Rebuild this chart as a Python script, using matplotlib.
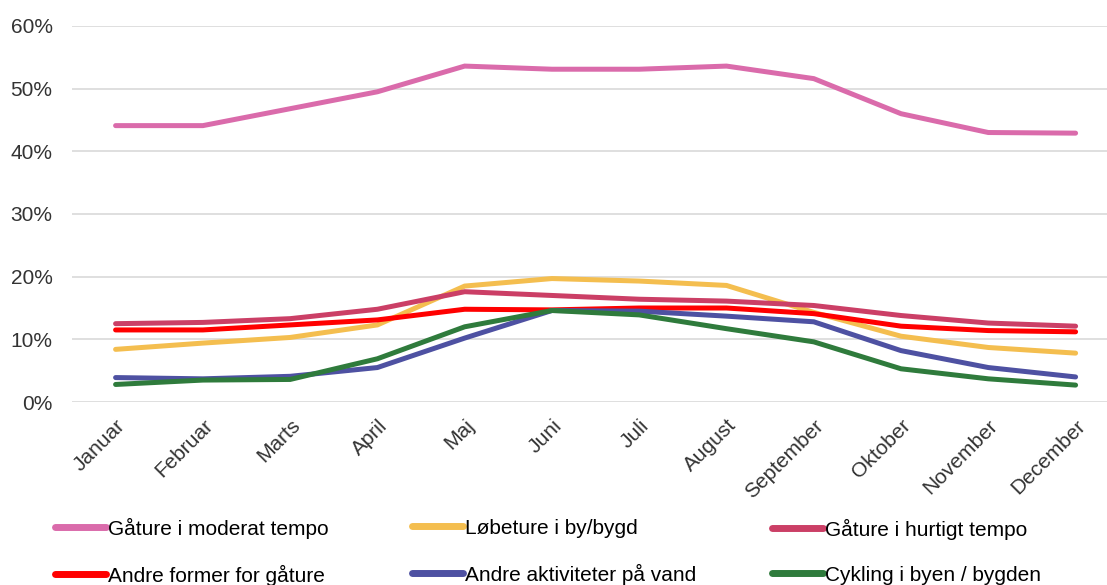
import matplotlib.pyplot as plt
from matplotlib.ticker import PercentFormatter

plt.rcParams['font.family'] = ['Liberation Sans', 'DejaVu Sans']

# --- data (share in %) ---
months = ['Januar', 'Februar', 'Marts', 'April', 'Maj', 'Juni', 'Juli',
          'August', 'September', 'Oktober', 'November', 'December']

gaature_moderat = [44.1, 44.1, 46.8, 49.5, 53.6, 53.1, 53.1, 53.6, 51.6, 46.0, 43.0, 42.9]
loebeture = [8.4, 9.4, 10.3, 12.3, 18.5, 19.7, 19.3, 18.6, 14.3, 10.5, 8.7, 7.8]
gaature_hurtigt = [12.5, 12.7, 13.3, 14.8, 17.6, 17.0, 16.4, 16.1, 15.4, 13.8, 12.6, 12.1]
andre_gaature = [11.5, 11.5, 12.3, 13.1, 14.8, 14.7, 15.0, 15.0, 14.1, 12.1, 11.4, 11.2]
andre_vand = [3.9, 3.7, 4.1, 5.5, 10.2, 14.6, 14.5, 13.7, 12.8, 8.2, 5.5, 4.0]
cykling = [2.8, 3.5, 3.6, 6.9, 12.0, 14.6, 13.9, 11.7, 9.6, 5.3, 3.7, 2.7]

series = [
    ('Gåture i moderat tempo', gaature_moderat, '#DA6BAB'),
    ('Løbeture i by/bygd', loebeture, '#F4BE4F'),
    ('Gåture i hurtigt tempo', gaature_hurtigt, '#CB3F66'),
    ('Andre former for gåture', andre_gaature, '#FF0000'),
    ('Andre aktiviteter på vand', andre_vand, '#4E51A2'),
    ('Cykling i byen / bygden', cykling, '#2F7B3C'),
]

fig = plt.figure(figsize=(11.07, 5.85), dpi=100)
ax = fig.add_axes([0.065, 0.3128, 0.935, 0.6428])

x = list(range(len(months)))
lines = []
for label, vals, col in series:
    ln, = ax.plot(x, vals, color=col, linewidth=3.6, label=label,
                  solid_capstyle='round', solid_joinstyle='miter')
    lines.append(ln)

ax.set_ylim(0, 60)
ax.set_xlim(-0.5, 11.36)
ax.set_yticks(range(0, 61, 10))
ax.yaxis.set_major_formatter(PercentFormatter(decimals=0))
ax.grid(axis='y', color='#D9D9D9', linewidth=1.2)
ax.set_axisbelow(True)
for s in ax.spines.values():
    s.set_visible(False)
ax.tick_params(axis='both', length=0, labelsize=15, colors='#333333')
ax.tick_params(axis='y', pad=14)
ax.set_xticks(x)
ax.set_xticklabels(months, rotation=45, ha='right', rotation_mode='anchor')
ax.tick_params(axis='x', pad=10)

# legend: three columns, row-major order, placed one column at a time
col_x = [0.050, 0.372, 0.697]
for c in range(3):
    hs = [lines[c], lines[c + 3]]
    leg = fig.legend(hs, [h.get_label() for h in hs],
                     loc='center left', bbox_to_anchor=(col_x[c], 0.057),
                     frameon=False, fontsize=15, handlelength=2.45,
                     handletextpad=0.1, labelspacing=1.25, borderaxespad=0,
                     borderpad=0)
    for h in leg.legend_handles:
        h.set_linewidth(5)

fig.savefig('out.png', dpi=100)
